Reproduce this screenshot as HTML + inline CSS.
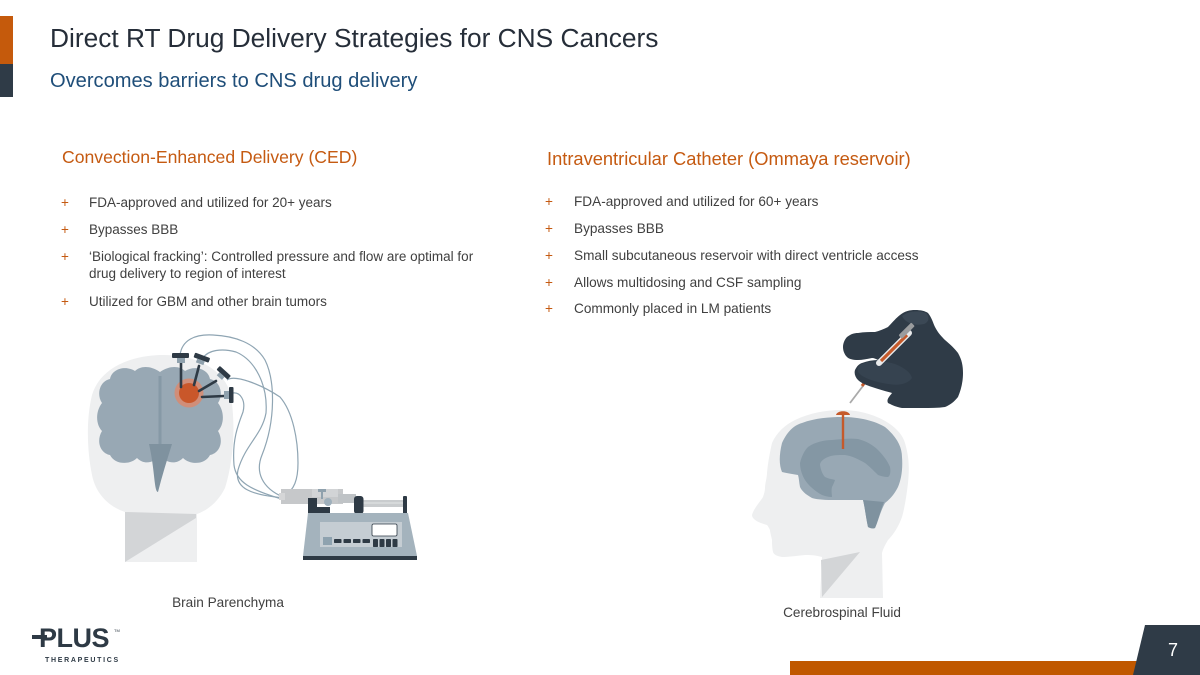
<!DOCTYPE html>
<html>
<head>
<meta charset="utf-8">
<style>
  html,body{margin:0;padding:0;background:#fff;}
  body{width:1200px;height:675px;overflow:hidden;}
  svg{display:block;}
  text{font-family:"Liberation Sans",Arial,sans-serif;}
</style>
</head>
<body>
<svg width="1200" height="675" viewBox="0 0 1200 675" xmlns="http://www.w3.org/2000/svg">
  <rect x="0" y="0" width="1200" height="675" fill="#ffffff"/>

  <!-- left accent bars -->
  <rect x="0" y="16" width="13" height="48" fill="#c55a0c"/>
  <rect x="0" y="64" width="13" height="33" fill="#2f3b47"/>

  <!-- title & subtitle -->
  <text x="50" y="47" font-size="26.3" fill="#262e39">Direct RT Drug Delivery Strategies for CNS Cancers</text>
  <text x="50" y="87" font-size="20.1" fill="#1f4e79">Overcomes barriers to CNS drug delivery</text>

  <!-- section headings -->
  <text x="62" y="163" font-size="17.6" fill="#c55a11">Convection-Enhanced Delivery (CED)</text>
  <text x="547" y="165" font-size="18.3" fill="#c55a11">Intraventricular Catheter (Ommaya reservoir)</text>

  <!-- left bullets -->
  <g font-size="13.5" fill="#404040">
    <text x="61" y="207" fill="#c55a11">+</text>
    <text x="89" y="207">FDA-approved and utilized for 20+ years</text>
    <text x="61" y="234" fill="#c55a11">+</text>
    <text x="89" y="234">Bypasses BBB</text>
    <text x="61" y="261" fill="#c55a11">+</text>
    <text x="89" y="261">‘Biological fracking’: Controlled pressure and flow are optimal for</text>
    <text x="89" y="278">drug delivery to region of interest</text>
    <text x="61" y="306" fill="#c55a11">+</text>
    <text x="89" y="306">Utilized for GBM and other brain tumors</text>
  </g>

  <!-- right bullets -->
  <g font-size="13.6" fill="#404040">
    <text x="545" y="206" fill="#c55a11">+</text>
    <text x="574" y="206">FDA-approved and utilized for 60+ years</text>
    <text x="545" y="233" fill="#c55a11">+</text>
    <text x="574" y="233">Bypasses BBB</text>
    <text x="545" y="260" fill="#c55a11">+</text>
    <text x="574" y="260">Small subcutaneous reservoir with direct ventricle access</text>
    <text x="545" y="287" fill="#c55a11">+</text>
    <text x="574" y="287">Allows multidosing and CSF sampling</text>
    <text x="545" y="313" fill="#c55a11">+</text>
    <text x="574" y="313">Commonly placed in LM patients</text>
  </g>

  <!-- ================= LEFT ILLUSTRATION ================= -->
  <!-- head -->
  <path d="M125,562 L125,512 C110,507 96,495 92,475 C87,450 86,420 92,395 C100,368 130,356 160,355 C195,354 222,368 230,392 C236,420 234,460 225,488 C218,502 208,510 197,514 L197,562 Z" fill="#eeeff0"/>
  <polygon points="125,512 125,562 196,518 196,514" fill="#d3d5d7"/>
  <!-- brain hemispheres -->
  <path d="M160,372 C150,365 140,366 135,371 C125,365 112,369 110,379 C100,381 96,394 102,403 C95,412 96,425 102,431 C96,441 100,453 110,455 C115,465 130,465 137,458 C145,466 155,462 160,455 Z" fill="#98a8b4"/>
  <path d="M160,372 C170,365 180,366 185,371 C195,365 208,369 210,379 C220,381 224,394 218,403 C225,412 224,425 218,431 C224,441 220,453 210,455 C205,465 190,465 183,458 C175,466 165,462 160,455 Z" fill="#98a8b4"/>
  <line x1="160" y1="376" x2="160" y2="452" stroke="#8699a6" stroke-width="3"/>
  <path d="M149,444 L172,444 C167,460 162,476 158,492 C154,492 155,470 149,444 Z" fill="#7f929f"/>

  <!-- tubes -->
  <g fill="none" stroke="#8fa5b3" stroke-width="1.2">
    <path d="M180,355 C182,340 195,334 213,335 C235,336 255,343 265,360 C275,380 276,420 262,455 C255,472 262,488 283,497"/>
    <path d="M203,358 C208,350 222,348 236,352 C255,360 268,385 266,413 C262,435 245,445 238,470 C234,488 250,495 285,498"/>
    <path d="M227,380 C235,374 262,385 280,397 C293,412 298,440 298,463 C298,480 294,490 285,495"/>
    <path d="M233,393 C240,392 246,400 243,412 C238,425 232,440 234,465 C236,482 250,490 285,500"/>
  </g>

  <!-- tumor -->
  <circle cx="189" cy="393" r="14.5" fill="#d98a6e" opacity="0.85"/>
  <circle cx="189" cy="393" r="10" fill="#c9572a"/>

  <!-- electrodes -->
  <g stroke="#2e3a45" stroke-width="2.6" stroke-linecap="round">
    <line x1="181" y1="363" x2="181" y2="387"/>
    <line x1="199" y1="366" x2="194" y2="385"/>
    <line x1="216" y1="381" x2="199" y2="391"/>
    <line x1="224" y1="396" x2="202" y2="397"/>
  </g>
  <rect x="172" y="353" width="17" height="5" rx="1" fill="#2e3a45"/>
  <rect x="177" y="358" width="8" height="5" fill="#8fa1ad"/>
  <g transform="rotate(20 201 360)">
    <rect x="193" y="355" width="16" height="5" rx="1" fill="#2e3a45"/>
    <rect x="197" y="360" width="8" height="4" fill="#8fa1ad"/>
  </g>
  <g transform="rotate(42 221 375)">
    <rect x="214" y="369" width="15" height="5" rx="1" fill="#2e3a45"/>
    <rect x="218" y="374" width="7" height="4" fill="#8fa1ad"/>
  </g>
  <rect x="229" y="387" width="4.5" height="16" rx="1" fill="#2e3a45"/>
  <rect x="224" y="391" width="5" height="8" fill="#8fa1ad"/>

  <!-- pump -->
  <rect x="281" y="489" width="62" height="15" fill="#c6c8ca"/>
  <rect x="279" y="493" width="6" height="7" fill="#d5d6d7"/>
  <rect x="312" y="489" width="26" height="8" fill="#d2d4d6"/>
  <rect x="318" y="489" width="8" height="3" fill="#8fa1ad"/>
  <rect x="321" y="492" width="2" height="7" fill="#8fa1ad"/>
  <circle cx="328" cy="502" r="4" fill="#9fb0bc"/>
  <rect x="308" y="498" width="9" height="15" fill="#2e3a45"/>
  <rect x="308" y="507" width="22" height="6" fill="#2e3a45"/>
  <rect x="338" y="494" width="18" height="9" fill="#bfc3c6"/>
  <rect x="363" y="500" width="41" height="7" fill="#c9ccce"/>
  <line x1="363" y1="503" x2="404" y2="503" stroke="#e4e6e7" stroke-width="1"/>
  <rect x="354" y="496" width="9.5" height="18" rx="3" fill="#2e3a45"/>
  <rect x="403" y="496" width="4" height="18" rx="1" fill="#2e3a45"/>
  <path d="M308,513 L408,513 L417,556 L303,556 Z" fill="#a4b3bd"/>
  <rect x="303" y="556" width="114" height="4" fill="#2e3a45"/>
  <rect x="320" y="522" width="82" height="25" fill="#c5cdd3"/>
  <rect x="372" y="524" width="25" height="12" rx="1.5" fill="#ffffff" stroke="#2e3a45" stroke-width="0.8"/>
  <rect x="323" y="537" width="9" height="8" fill="#8ea2af"/>
  <g fill="#2e3a45">
    <rect x="334" y="539" width="7.5" height="4" rx="0.8"/>
    <rect x="343.5" y="539" width="7.5" height="4" rx="0.8"/>
    <rect x="353" y="539" width="7.5" height="4" rx="0.8"/>
    <rect x="362.5" y="539" width="7.5" height="4" rx="0.8"/>
    <rect x="373" y="539" width="5" height="8" rx="0.8"/>
    <rect x="379.5" y="539" width="5" height="8" rx="0.8"/>
    <rect x="386" y="539" width="5" height="8" rx="0.8"/>
    <rect x="392.5" y="539" width="5" height="8" rx="0.8"/>
  </g>

  <text x="228" y="607" font-size="13.6" fill="#404040" text-anchor="middle">Brain Parenchyma</text>

  <!-- ================= RIGHT ILLUSTRATION ================= -->
  <!-- head -->
  <path d="M842,410 C872,410 900,425 905,443 C910,460 909,472 908,483 C906,500 904,510 902,517 C898,528 893,535 888,540 C885,545 883,549 882,553 L883,598 L820,598 L822,557 C815,555 810,555 805,555 C795,556 788,557 782,557 C777,556 774,555 773,552 C772,547 772,543 772,540 C771,535 770,532 770,530 C769,528 768,526 767,525 C760,523 752,520 752,515 C754,508 760,502 763,497 C764,494 765,491 765,488 C765,483 767,478 767,473 C768,462 770,452 772,443 C777,432 785,425 795,420 C810,413 825,410 842,410 Z" fill="#eeeff0"/>
  <polygon points="822,597 821,560 860,552" fill="#d3d5d7"/>
  <!-- brain -->
  <path d="M782,443 C788,430 795,425 802,423 C815,418 830,417 842,417 C860,417 875,421 885,427 C897,437 902,447 902,457 C903,470 901,480 898,487 C894,495 889,500 885,503 C880,512 878,522 875,528 C872,529 870,528 868,527 C866,518 865,508 863,500 C852,500 842,500 832,500 C822,500 815,499 812,498 C805,494 802,491 800,487 C799,482 799,478 798,475 C792,474 786,473 782,472 C779,465 779,455 782,443 Z" fill="#98a8b4"/>
  <path d="M863,500 L884,502 C880,512 878,521 875,528 C872,529 870,528 868,527 C866,518 865,508 863,500 Z" fill="#7f929f"/>
  <path d="M800,463 C802,455 805,450 808,447 C815,442 825,440 832,440 C842,439 850,438 858,439 C866,441 873,445 878,450 C884,456 888,462 890,467 C891,472 890,476 888,477 C884,477 881,476 878,475 C873,470 869,466 865,463 C858,459 852,456 845,455 C838,455 832,455 828,457 C823,459 820,462 820,465 C821,471 823,475 825,477 C829,479 832,479 835,480 C834,483 833,485 832,487 C831,491 832,494 832,497 C828,497 825,496 822,495 C815,491 809,486 805,480 C802,475 800,469 800,463 Z" fill="#8497a4"/>
  <!-- catheter -->
  <line x1="843" y1="414" x2="843" y2="449" stroke="#c55a2b" stroke-width="2.4"/>
  <path d="M836,415 C837,410 849,410 850,415 Z" fill="#c55a2b"/>

  <!-- needle -->
  <line x1="866" y1="382" x2="850" y2="403" stroke="#aaaaaa" stroke-width="1.8"/>
  <line x1="868" y1="378" x2="862" y2="386" stroke="#c55a2b" stroke-width="3"/>
  <!-- glove -->
  <path d="M900,315 C905,311 910,310 915,310 C921,310 925,311 928,313 C932,318 933,323 935,327 C938,333 942,337 945,340 C951,345 955,349 958,353 C962,360 963,366 963,373 C963,382 961,390 958,397 C954,402 950,405 945,407 C938,408 930,408 922,408 C915,408 908,408 902,408 C896,407 892,405 888,403 C886,399 890,396 892,393 C885,391 878,389 872,387 C866,385 861,383 858,380 C855,377 854,373 855,370 C857,366 859,364 862,363 C867,361 873,360 878,360 C876,359 874,358 872,358 C867,359 862,360 858,360 C853,360 849,359 847,357 C844,354 843,350 843,347 C843,343 845,339 847,337 C851,334 854,333 858,333 C864,332 870,332 875,332 C879,331 884,329 888,327 C892,323 896,318 900,315 Z" fill="#2f3b47"/>
  <path d="M902,316 C908,311 918,310 926,313 C930,317 929,322 924,324 C916,326 906,324 902,316 Z" fill="#3b4855"/>
  <path d="M862,364 C872,360 885,361 895,364 C905,368 911,373 912,378 C908,384 898,386 888,384 C875,382 862,378 858,372 C857,368 859,365 862,364 Z" fill="#364350"/>
  <!-- syringe -->
  <line x1="909" y1="333" x2="879" y2="363" stroke="#e9eaeb" stroke-width="6" stroke-linecap="round"/>
  <line x1="907" y1="335" x2="881" y2="361" stroke="#c55a2b" stroke-width="3.2"/>
  <g transform="rotate(-45 907 331)">
    <rect x="898" y="328" width="18" height="5" rx="1" fill="#9a9c9e"/>
  </g>

  <text x="842" y="617" font-size="13.6" fill="#404040" text-anchor="middle">Cerebrospinal Fluid</text>

  <!-- ================= FOOTER ================= -->
  <!-- logo -->
  <text x="39" y="647" font-size="27" font-weight="bold" fill="#2e3a45" letter-spacing="-0.5">PLUS</text>
  <rect x="32" y="635" width="15" height="4" fill="#2e3a45"/>
  <text x="114" y="632" font-size="4" fill="#2e3a45">TM</text>
  <text x="45" y="662" font-size="7" font-weight="bold" fill="#2e3a45" letter-spacing="1.7">THERAPEUTICS</text>

  <!-- bottom bars -->
  <rect x="790" y="661" width="352" height="14" fill="#c05800"/>
  <polygon points="1145,625 1200,625 1200,675 1133,675" fill="#2f3b47"/>
  <text x="1173" y="656" font-size="18" fill="#ffffff" text-anchor="middle">7</text>
</svg>
</body>
</html>
